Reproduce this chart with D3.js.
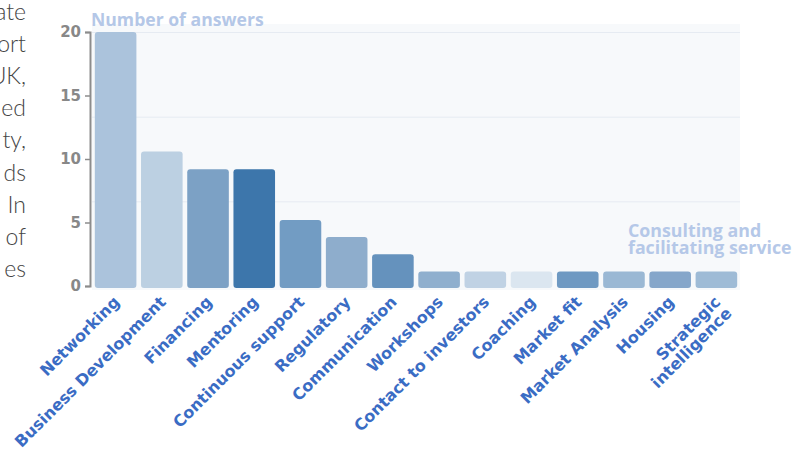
<!DOCTYPE html>
<html>
<head>
<meta charset="utf-8">
<script src="https://cdn.jsdelivr.net/npm/d3@7"></script>
<style>
body{margin:0;background:#fff;}
svg{display:block;}
</style>
</head>
<body>
<svg></svg>
<script>
//categories and values
var categories = ["Networking","Business Development","Financing","Mentoring",
    "Continuous support","Regulatory","Communication","Workshops",
    "Contact to investors","Coaching","Market fit","Market Analysis",
    "Housing","Strategic intelligence"];
var answers = [20,10.6,9.2,9.2,5.2,3.85,2.5,1.15,1.15,1.15,1.15,1.15,1.15,1.15];
var barColors = ["#abc3dc","#bcd0e2","#7ca1c5","#3d76ab","#729cc3","#8eadcc",
    "#6592bd","#8fafce","#c0d2e4","#dbe6f0","#6e99c2","#9ab8d4","#85a6ca","#9ebbd6"];
var yTicks = [0,5,10,15,20];
var gridValues = [20/3,40/3,20];
//bits of the paragraph that is cut off at the left edge
var sideText = ["ate","ort","UK,","ed","ty,","ds","In","of","es"];
var yTitle = "Number of answers";
var noteLines = ["Consulting and","facilitating service"];

var labelFont = "'DejaVu Sans', sans-serif";
var titleFont = "'Open Sans', sans-serif";

var makeTranslateString = function(x,y)
{
    return "translate("+x+","+y+")";
}

//background and light grid lines
var drawBackground = function(graph,target,yScale)
{
    target.append("rect")
        .attr("x",0)
        .attr("y",-8)
        .attr("width",graph.width)
        .attr("height",graph.height+12)
        .attr("fill","#f7f9fb");

    target.selectAll(".grid")
        .data(gridValues)
        .enter()
        .append("line")
        .attr("class","grid")
        .attr("x1",0)
        .attr("x2",graph.width)
        .attr("y1",function(d){return yScale(d)+0.5;})
        .attr("y2",function(d){return yScale(d)+0.5;})
        .attr("stroke","#e6ebf2")
        .attr("stroke-width",1);
}

var drawBars = function(rows,target,xScale,yScale)
{
    target.selectAll(".bar")
        .data(rows)
        .enter()
        .append("rect")
        .attr("class","bar")
        .attr("x",function(d){return xScale(d.name);})
        .attr("y",function(d){return yScale(d.value);})
        .attr("width",xScale.bandwidth())
        .attr("height",function(d){return yScale(0)-yScale(d.value)+2;})
        .attr("rx",3)
        .attr("fill",function(d){return d.color;});
}

var drawAxes = function(graph,target,xScale,yScale)
{
    var yAxis = d3.axisLeft(yScale)
        .tickValues(yTicks)
        .tickSize(5)
        .tickSizeOuter(5)
        .tickPadding(4);

    var ya = target.append("g")
        .attr("transform",makeTranslateString(-2,0))
        .call(yAxis);
    ya.select(".domain").attr("stroke","#8c8c8c").attr("stroke-width",2);
    ya.selectAll(".tick line").attr("stroke","#8c8c8c").attr("stroke-width",1.5);
    ya.selectAll(".tick text")
        .attr("fill","#888")
        .style("font-family",labelFont)
        .style("font-weight","bold")
        .style("font-size","15px");

    //rotated category labels
    var labels = target.selectAll(".xlabel")
        .data(categories)
        .enter()
        .append("text")
        .attr("class","xlabel")
        .attr("transform",function(d)
        {
            var cx = xScale(d)+xScale.bandwidth()/2+5;
            return makeTranslateString(cx,graph.height+17)+" rotate(-45)";
        })
        .attr("text-anchor","end")
        .attr("fill","#3a6cc4")
        .style("font-family",labelFont)
        .style("font-weight","bold")
        .style("font-size","16px");

    labels.each(function(d)
    {
        var t = d3.select(this);
        var parts = d=="Strategic intelligence" ? ["Strategic","intelligence"] : [d];
        parts.forEach(function(p,i)
        {
            t.append("tspan")
                .attr("x",0)
                .attr("dy",i==0 ? 0 : "1.0em")
                .text(p);
        });
    });
}

var drawLabels = function(graph,margins,svg)
{
    svg.append("text")
        .attr("x",margins.left-1)
        .attr("y",26)
        .attr("fill","#b4c7e7")
        .style("font-family",titleFont)
        .style("font-weight","bold")
        .style("font-size","17.6px")
        .text(yTitle);

    svg.selectAll(".note")
        .data(noteLines)
        .enter()
        .append("text")
        .attr("class","note")
        .attr("x",628)
        .attr("y",function(d,i){return 237+i*16.5;})
        .attr("fill","#b5c8e8")
        .style("font-family",titleFont)
        .style("font-weight","bold")
        .style("font-size","17.8px")
        .text(function(d){return d;});

    svg.selectAll(".side")
        .data(sideText)
        .enter()
        .append("text")
        .attr("class","side")
        .attr("x",26)
        .attr("y",function(d,i){return 20+i*32.1;})
        .attr("text-anchor","end")
        .attr("fill","#444")
        .style("font-family","Lato, sans-serif")
        .style("font-weight","300")
        .style("font-size","23px")
        .text(function(d){return d;});
}

var initGraph = function()
{
    var screen = {width:808,height:450};
    var margins = {left:92,right:68,top:32,bottom:164};

    var graph =
        {
            width:screen.width-margins.left-margins.right,
            height:screen.height-margins.top-margins.bottom
        };

    var svg = d3.select("svg")
        .attr("width",screen.width)
        .attr("height",screen.height);

    var target = svg.append("g")
        .attr("id","graph")
        .attr("transform",makeTranslateString(margins.left,margins.top));

    var rows = categories.map(function(c,i)
    {
        return {name:c,value:answers[i],color:barColors[i]};
    });

    var xScale = d3.scaleBand()
        .domain(categories)
        .range([0.5,graph.width-0.5])
        .paddingInner(0.1)
        .paddingOuter(0.05);

    var yScale = d3.scaleLinear()
        .domain([0,20])
        .range([graph.height,0]);

    drawBackground(graph,target,yScale);
    drawBars(rows,target,xScale,yScale);
    drawAxes(graph,target,xScale,yScale);
    drawLabels(graph,margins,svg);
}

initGraph();
</script>
</body>
</html>
